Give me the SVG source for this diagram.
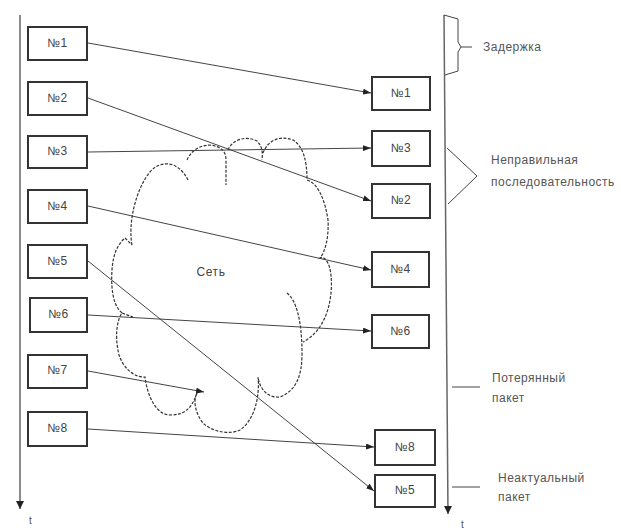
<svg xmlns="http://www.w3.org/2000/svg" width="621" height="531" viewBox="0 0 621 531">
<defs>
<marker id="ah" markerWidth="8" markerHeight="6" refX="8" refY="3" orient="auto" markerUnits="userSpaceOnUse">
<path d="M0,0 L8,3 L0,6 z" fill="#222"/>
</marker>
<marker id="axh" markerWidth="8" markerHeight="8" refX="4" refY="8" orient="0" markerUnits="userSpaceOnUse">
<path d="M0,0 L8,0 L4,8 z" fill="#222"/>
</marker>
<style>
.box{fill:#fff;stroke:#333;stroke-width:2}
.lbl{font-family:"Liberation Sans",Arial,sans-serif;font-size:12px;letter-spacing:0.6px;fill:#444;text-anchor:middle;dominant-baseline:middle}
.note{font-family:"Liberation Sans",Arial,sans-serif;font-size:12px;letter-spacing:0.5px;fill:#555}
.tt{font-family:"Liberation Sans",Arial,sans-serif;font-size:10px;fill:#555}
.ln{stroke:#444;stroke-width:1;fill:none}
.ax{stroke:#666;stroke-width:1.5;fill:none}
.cloud{stroke:#333;stroke-width:1.2;fill:none;stroke-dasharray:3,1.5}
</style>
</defs>
<rect width="621" height="531" fill="#fff"/>

<g id="axes">
<line class="ax" x1="20" y1="15" x2="20" y2="509" marker-end="url(#axh)"/>
<text class="tt" x="29" y="524">t</text>
<line class="ax" x1="444" y1="15" x2="448" y2="514" marker-end="url(#axh)"/>
<text class="tt" x="461" y="528">t</text>
</g>

<g id="cloud">
<path class="cloud" d="M132,245 C128,225 135,190 150,172 C160,160 178,160 188,180
M187,160 C192,148 205,143 215,146 C222,148 226,152 226,160 L226,185
M228,150 C232,140 245,135 257,141 C262,146 263,152 262,160
M263,153 C268,140 280,135 293,140 C303,146 307,160 307,180
C318,183 325,200 328,220 C329,238 325,252 320,258
C328,255 333,272 331,293 C329,312 322,332 303,342
M287,293 C296,300 302,320 302,353 C302,375 297,390 280,397 C268,398 260,390 258,377
C260,395 255,420 240,430 C230,435 212,432 203,423 C195,413 193,400 197,393
C192,408 185,415 170,415 C158,415 148,400 145,377
C133,378 120,365 118,350 C115,335 117,320 122,313 L133,317
M122,313 C112,305 111,285 112,270 C113,255 117,245 125,238 L132,245"/>
<text class="lbl" x="211" y="273">Сеть</text>
</g>

<g id="connectors">
<line class="ln" x1="88" y1="43" x2="371" y2="93" marker-end="url(#ah)"/>
<line class="ln" x1="88" y1="98" x2="371" y2="201" marker-end="url(#ah)"/>
<line class="ln" x1="88" y1="152" x2="371" y2="148" marker-end="url(#ah)"/>
<line class="ln" x1="88" y1="206" x2="371" y2="270" marker-end="url(#ah)"/>
<line class="ln" x1="88" y1="261" x2="374" y2="491" marker-end="url(#ah)"/>
<line class="ln" x1="88" y1="315" x2="371" y2="331" marker-end="url(#ah)"/>
<line class="ln" x1="88" y1="371" x2="204" y2="392" marker-end="url(#ah)"/>
<line class="ln" x1="88" y1="429" x2="374" y2="447" marker-end="url(#ah)"/>
</g>

<g id="s1"><rect class="box" x="28" y="27" width="59" height="33"/><text class="lbl" x="57.5" y="43.5">№1</text></g>
<g id="s2"><rect class="box" x="28" y="82" width="59" height="33"/><text class="lbl" x="57.5" y="98.5">№2</text></g>
<g id="s3"><rect class="box" x="28" y="136" width="59" height="32"/><text class="lbl" x="57.5" y="152">№3</text></g>
<g id="s4"><rect class="box" x="28" y="190" width="59" height="33"/><text class="lbl" x="57.5" y="206.5">№4</text></g>
<g id="s5"><rect class="box" x="28" y="245" width="59" height="33"/><text class="lbl" x="57.5" y="261.5">№5</text></g>
<g id="s6"><rect class="box" x="30" y="298" width="57" height="34"/><text class="lbl" x="58.5" y="315">№6</text></g>
<g id="s7"><rect class="box" x="28" y="355" width="59" height="33"/><text class="lbl" x="57.5" y="371">№7</text></g>
<g id="s8"><rect class="box" x="28" y="412" width="59" height="34"/><text class="lbl" x="57.5" y="429">№8</text></g>

<g id="r1"><rect class="box" x="372" y="77" width="58" height="33"/><text class="lbl" x="401" y="93.5">№1</text></g>
<g id="r3"><rect class="box" x="372" y="131" width="58" height="35"/><text class="lbl" x="401" y="148.5">№3</text></g>
<g id="r2"><rect class="box" x="372" y="184" width="58" height="34"/><text class="lbl" x="401" y="201">№2</text></g>
<g id="r4"><rect class="box" x="372" y="252" width="57" height="35"/><text class="lbl" x="400.5" y="269.5">№4</text></g>
<g id="r6"><rect class="box" x="372" y="315" width="57" height="33"/><text class="lbl" x="400.5" y="331.5">№6</text></g>
<g id="r8"><rect class="box" x="375" y="430" width="60" height="35"/><text class="lbl" x="405" y="447.5">№8</text></g>
<g id="r5"><rect class="box" x="375" y="475" width="60" height="32"/><text class="lbl" x="405" y="491">№5</text></g>

<g id="delay">
<path class="ln" stroke="#666" d="M444,15 L458,19 L458,42 L461,47 L458,52 L458,71 L445,75 M461,47 L472,47"/>
<text class="note" x="483" y="51">Задержка</text>
</g>
<g id="wrongorder">
<path class="ln" stroke="#666" d="M447,148 L477,176 L448,204"/>
<text class="note" x="491" y="164">Неправильная</text>
<text class="note" x="491" y="186">последовательность</text>
</g>
<g id="lost">
<line class="ln" stroke="#666" x1="452" y1="387" x2="480" y2="387"/>
<text class="note" x="492" y="382">Потерянный</text>
<text class="note" x="492" y="402">пакет</text>
</g>
<g id="stale">
<line class="ln" stroke="#666" x1="452" y1="487" x2="480" y2="487"/>
<text class="note" x="498" y="482">Неактуальный</text>
<text class="note" x="498" y="501">пакет</text>
</g>
</svg>
